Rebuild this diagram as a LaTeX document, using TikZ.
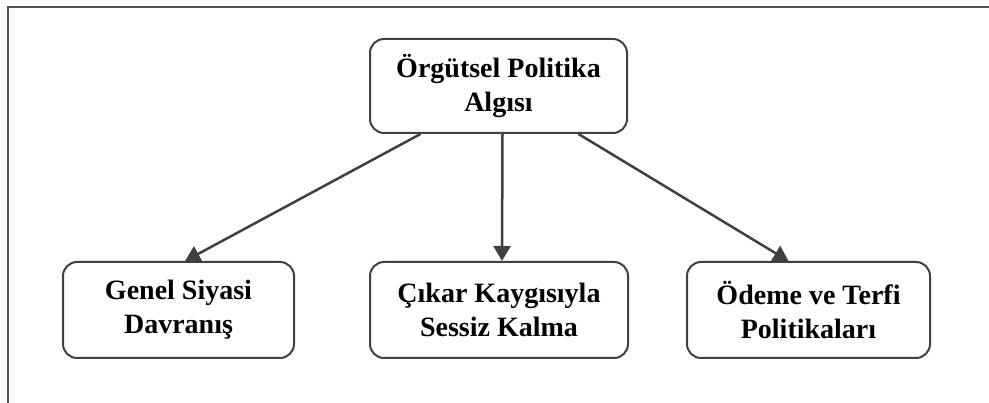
\documentclass[tikz,border=0pt]{standalone}
\usepackage{fontspec}
\setmainfont{Liberation Serif}
\usetikzlibrary{arrows.meta}
\definecolor{lc}{HTML}{404040}
\tikzset{
  box/.style={draw=lc, line width=2pt, rounded corners=14pt, fill=white, align=center,
    font=\fontsize{28}{34}\selectfont\bfseries, inner sep=0pt},
  conn/.style={draw=lc, line width=2.5pt, -{Triangle[length=15pt,width=17pt]}},
  frame/.style={draw=lc!90, line width=2.2pt}
}
\begin{document}
\begin{tikzpicture}[x=1pt,y=-1pt]
\useasboundingbox (0,0) rectangle (989,403);
\coordinate (f1) at (989,7);
\coordinate (f0) at (8,7);
\coordinate (f2) at (8,403);
\draw[frame] (f1) -- (f0) -- (f2);
\node[box, minimum width=257pt, minimum height=94pt] (top) at (498.5,86) {Örgütsel Politika\\Algısı};
\node[box, minimum width=231pt, minimum height=96pt] (a) at (178.5,310) {Genel Siyasi\\Davranış};
\node[box, minimum width=258pt, minimum height=96pt] (b) at (499,310) {Çıkar Kaygısıyla\\Sessiz Kalma};
\node[box, minimum width=243pt, minimum height=96pt] (c) at (808.5,310) {Ödeme ve Terfi\\Politikaları};
\draw[conn] ([xshift=-78pt]top.south) -- ([xshift=6.5pt]a.north);
\draw[conn] ([xshift=4pt]top.south) -- ([xshift=3pt]b.north);
\draw[conn] ([xshift=80pt]top.south) -- ([xshift=-20pt]c.north);
\end{tikzpicture}
\end{document}
